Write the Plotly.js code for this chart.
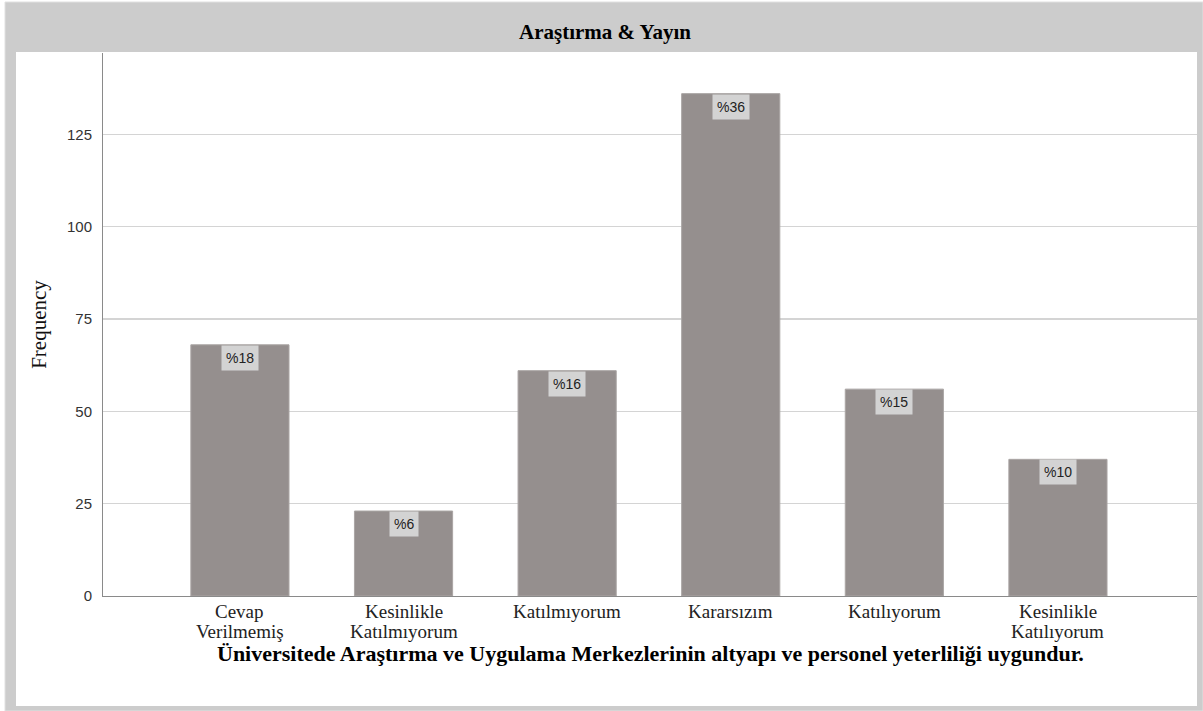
<!DOCTYPE html>
<html>
<head>
<meta charset="utf-8">
<script src="https://cdn.plot.ly/plotly-3.0.1.min.js"></script>
<style>html,body{margin:0;padding:0;background:#fff;}#chart{width:1203px;height:711px;}</style>
</head>
<body>
<div id="chart"></div>
<script>
const categories = ["Cevap<br>Verilmemiş", "Kesinlikle<br>Katılmıyorum", "Katılmıyorum", "Kararsızım", "Katılıyorum", "Kesinlikle<br>Katılıyorum"];
const frequencies = [68, 23, 61, 136, 56, 37];
const percentLabels = ["%18", "%6", "%16", "%36", "%15", "%10"];
const yTicks = [0, 25, 50, 75, 100, 125];
const chartTitle = "Araştırma & Yayın";
const xTitle = "Üniversitede Araştırma ve Uygulama Merkezlerinin altyapı ve personel yeterliliği uygundur.";
const yTitle = "Frequency";

const W = 1203, H = 711;
const mL = 103, mR = 6, mT = 53, mB = 115;
const pw = W - mL - mR, ph = H - mT - mB;
const px = v => (v - mL) / pw;
const py = v => (H - mB - v) / ph;

const SERIF = 'Liberation Serif, Times New Roman, serif';
const SANS = 'Liberation Sans, Arial, sans-serif';

const idx = categories.map((_, i) => i);

const trace = {
  type: 'bar',
  x: idx,
  y: frequencies,
  width: 0.6,
  marker: {color: '#958f8e', line: {color: '#aaa5a4', width: 1}},
  hoverinfo: 'none'
};

const annotations = idx.map(i => ({
  x: i, y: frequencies[i], xref: 'x', yref: 'y',
  text: percentLabels[i], showarrow: false,
  yanchor: 'top', xanchor: 'center',
  bgcolor: '#d3d3d3', borderpad: 4,
  font: {family: SANS, size: 14, color: '#222'}
}));

// category labels (two-line labels drawn line by line for tighter spacing)
idx.forEach(i => {
  categories[i].split('<br>').forEach((line, k) => {
    annotations.push({
      x: i, xref: 'x', yref: 'paper', y: py(611 + k * 20),
      text: line, showarrow: false, xanchor: 'center', yanchor: 'middle',
      font: {family: SERIF, size: 19, color: '#222'}
    });
  });
});

annotations.push({
  xref: 'paper', yref: 'paper', x: 0.5, y: py(653), yanchor: 'middle', xanchor: 'center',
  text: '<b>' + xTitle + '</b>',
  showarrow: false,
  font: {family: SERIF, size: 22, color: '#000'}
});

const layout = {
  width: W, height: H,
  margin: {l: mL, r: mR, t: mT, b: mB, pad: 0},
  font: {family: SERIF, size: 15, color: '#222'},
  paper_bgcolor: '#ffffff',
  plot_bgcolor: 'rgba(0,0,0,0)',
  showlegend: false,
  title: {
    text: '<b>' + chartTitle + '</b>',
    xref: 'container', yref: 'container', x: 605 / W, y: 1 - 32 / H,
    xanchor: 'center', yanchor: 'middle',
    font: {family: SERIF, size: 21, color: '#000'}
  },
  xaxis: {
    tickmode: 'array', tickvals: idx, ticktext: idx.map(() => ''),
    range: [-0.837, 5.85],
    showgrid: false, zeroline: false,
    showline: true, linecolor: '#8a8a8a', linewidth: 1,
    ticks: '',
    fixedrange: true
  },
  yaxis: {
    title: {text: yTitle, standoff: 14, font: {family: SERIF, size: 21, color: '#111'}},
    range: [0, 147],
    tickmode: 'array', tickvals: yTicks,
    showgrid: true, gridcolor: '#d4d4d4', gridwidth: 1.5,
    zeroline: false,
    showline: true, linecolor: '#8a8a8a', linewidth: 1,
    ticks: '', ticklabelstandoff: 7,
    tickfont: {family: SANS, size: 15, color: '#333'},
    fixedrange: true
  },
  shapes: [
    {type: 'rect', xref: 'paper', yref: 'paper', layer: 'below',
     x0: px(5), x1: px(1203), y0: py(711), y1: py(2),
     fillcolor: '#cccccc', line: {color: '#e0e0e0', width: 1}},
    {type: 'rect', xref: 'paper', yref: 'paper', layer: 'below',
     x0: px(16), x1: px(1197), y0: py(706), y1: py(52),
     fillcolor: '#ffffff', line: {width: 0}}
  ],
  annotations: annotations,
  bargap: 0.4
};

Plotly.newPlot('chart', [trace], layout, {displayModeBar: false, staticPlot: true});
</script>
</body>
</html>
